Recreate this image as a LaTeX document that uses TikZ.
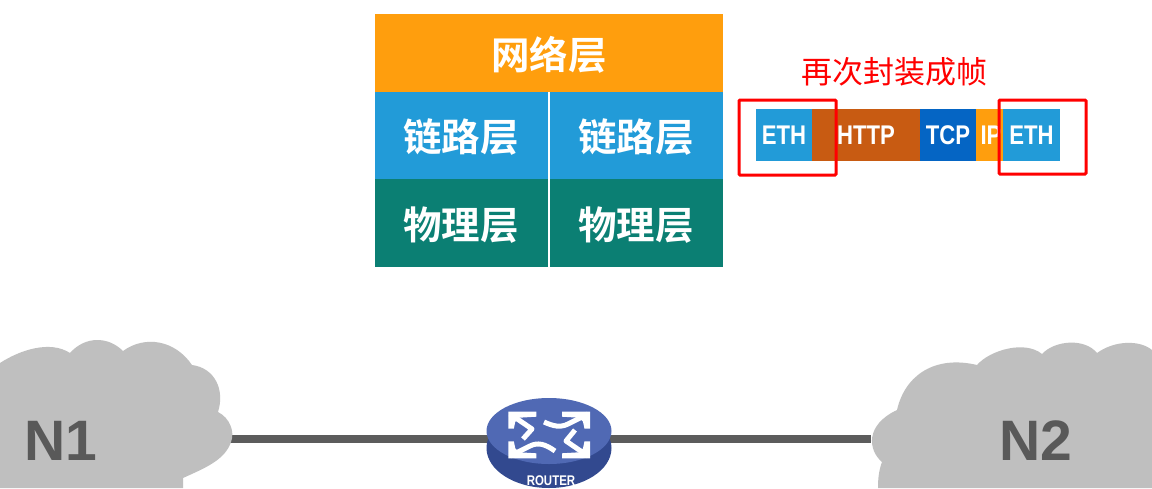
\documentclass[tikz,border=0pt]{standalone}
\usepackage{fontspec}
\usetikzlibrary{shapes.geometric,calc}
\setmainfont{Liberation Sans}
\newfontfamily\cjk[BoldFont={Noto Sans CJK SC Bold}]{Noto Sans CJK SC}
\newfontfamily\pkt[FakeStretch=0.82]{Liberation Sans}
\definecolor{orangeL}{HTML}{FF9E0D}
\definecolor{blueL}{HTML}{229BD8}
\definecolor{tealL}{HTML}{0B7F73}
\definecolor{brownL}{HTML}{C85B12}
\definecolor{tcpL}{HTML}{0565C4}
\definecolor{cloudL}{HTML}{BFBFBF}
\definecolor{inkL}{HTML}{595959}
\definecolor{lineL}{HTML}{5C5C5C}
\definecolor{routerT}{HTML}{5069B4}
\definecolor{routerS}{HTML}{32498F}
\pgfdeclarelayer{bg}\pgfsetlayers{bg,main}
\tikzset{
 x=1pt,y=-1pt,
 layerbox/.style={inner sep=0,outer sep=0},
 layertext/.style={inner sep=0,text=white,font=\cjk\bfseries\fontsize{38.5}{38.5}\selectfont},
 pktbox/.style={inner sep=0,outer sep=0,text=white,font=\pkt\bfseries\fontsize{27}{27}\selectfont,minimum height=52pt},
 redframe/.style={draw=red,line width=3pt,rounded corners=1pt},
 cloudshape/.style={fill=cloudL,draw=none},
 cloudlabel/.style={text=inkL,font=\bfseries\fontsize{57}{57}\selectfont,inner sep=0},
 link/.style={draw=lineL,line width=8pt},
 warrow/.style={draw=white,line width=5pt,line join=round},
 whead/.style={fill=white,draw=none},
}
\begin{document}
\begin{tikzpicture}
\useasboundingbox (0,0) rectangle (1152,488);
\begin{pgfonlayer}{bg}
\fill[white] (0,0) rectangle (1152,488);
\end{pgfonlayer}
% layer table
\node[layerbox,fill=orangeL,minimum width=348pt,minimum height=78pt] (net) at (549,53) {};
\node[layerbox,fill=blueL,minimum width=173pt,minimum height=87pt] (l1) at (461.5,135.5) {};
\node[layerbox,fill=blueL,minimum width=173pt,minimum height=87pt] (l2) at (636.5,135.5) {};
\node[layerbox,fill=tealL,minimum width=173pt,minimum height=88pt] (p1) at (461.5,223) {};
\node[layerbox,fill=tealL,minimum width=173pt,minimum height=88pt] (p2) at (636.5,223) {};
\node[layertext] (tnet) at (549,55) {网络层};
\node[layertext] (tl1) at (461,137) {链路层};
\node[layertext] (tl2) at (636,137) {链路层};
\node[layertext] (tp1) at (461,225) {物理层};
\node[layertext] (tp2) at (636,225) {物理层};
% title
\node[inner sep=0,text=red,font=\cjk\fontsize{31}{31}\selectfont] (title) at (894,72) {再次封装成帧};
% packet
\node[pktbox,fill=brownL,minimum width=108pt] (http) at (866,135) {HTTP};
\node[pktbox,fill=tcpL,minimum width=56pt] (tcp) at (948,135) {TCP};
\node[pktbox,fill=orangeL,minimum width=27pt] (ip) at (989.5,135) {\hspace*{3pt}IP};
\node[pktbox,fill=blueL,minimum width=56pt] (eth1) at (784,135) {ETH};
\node[pktbox,fill=blueL,minimum width=57pt] (eth2) at (1031.5,135) {ETH};
\node[redframe,inner sep=0,minimum width=97pt,minimum height=75pt] (f1) at (787.5,137.5) {};
\node[redframe,inner sep=0,minimum width=87pt,minimum height=74pt] (f2) at (1042.5,137) {};
% clouds
\path[cloudshape] (0,363) .. controls (20,350) and (50,340) .. (70,353)
 .. controls (85,336) and (108,336) .. (123,351)
 .. controls (145,335) and (175,340) .. (192,365)
 .. controls (215,368) and (225,390) .. (218,412)
 .. controls (230,418) and (235,432) .. (231,442)
 .. controls (225,460) and (205,468) .. (183,478)
 -- (183,488) -- (0,488) -- cycle;
\path[cloudshape] (878,488) .. controls (878,478) and (879,470) .. (882,462)
 .. controls (868,450) and (865,425) .. (897,410)
 .. controls (905,375) and (935,355) .. (977,365)
 .. controls (990,350) and (1025,340) .. (1042,354)
 .. controls (1055,340) and (1085,338) .. (1097,353)
 .. controls (1115,340) and (1140,340) .. (1152,350)
 -- (1152,488) -- cycle;
\node[cloudlabel] (n1) at (60.5,441) {N1};
\node[cloudlabel] (n2) at (1036,441) {N2};
% router
\node[ellipse,fill=routerS,inner sep=0,minimum width=125pt,minimum height=80pt] (base) at (549,448) {};
\node[ellipse,fill=routerT,inner sep=0,minimum width=125pt,minimum height=66pt] (router) at (549,431) {};
\coordinate (n1port) at (230,439);
\coordinate (n2port) at (871,439);
\begin{pgfonlayer}{bg}
\draw[link] (n1port) -- (n1port -| router.center);
\draw[link] (n2port -| router.center) -- (n2port);
\end{pgfonlayer}
\foreach \cx/\cy/\sx/\sy in {508.3/411.7/1/1,590/411.7/-1/1,508.3/458.3/1/-1,590/458.3/-1/-1}{
 \begin{scope}[shift={(\cx,\cy)},xscale=\sx,yscale=\sy]
  \path[whead] (0,0) -- (28,0) -- (28,5) -- (11,6) -- (7,10) -- (5.5,17) -- (0,17) -- cycle;
 \end{scope}
}
\draw[warrow] (510,414) -- (532,429) -- (523,439);
\draw[warrow] (588,414) -- (568,424) .. controls (560,428) and (553,426) .. (544,422);
\draw[warrow] (510,456) -- (530,446) .. controls (538,442) and (545,444) .. (555,451);
\draw[warrow] (588,456) -- (566,441) -- (575,430);
\node[inner sep=0,text=white,font=\pkt\bfseries\fontsize{14}{14}\selectfont] (rlabel) at (551,481) {ROUTER};
\end{tikzpicture}
\end{document}
